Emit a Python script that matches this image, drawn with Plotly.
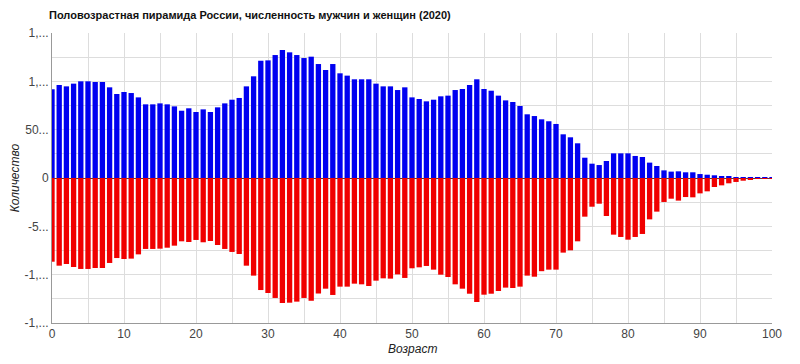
import plotly.graph_objects as go

ages = list(range(0, 101))

# Men (millions)
men_m = [0.918, 0.962, 0.948, 0.976, 1.000, 1.000, 0.993, 0.993, 0.938, 0.869,
         0.890, 0.879, 0.834, 0.762, 0.762, 0.772, 0.762, 0.741, 0.696, 0.721,
         0.683, 0.710, 0.683, 0.731, 0.772, 0.810, 0.828, 0.948, 1.052, 1.213,
         1.217, 1.272, 1.324, 1.300, 1.272, 1.241, 1.255, 1.179, 1.117, 1.179,
         1.083, 1.059, 1.021, 1.021, 1.021, 0.976, 0.948, 0.948, 0.910, 0.938,
         0.834, 0.817, 0.793, 0.810, 0.845, 0.852, 0.910, 0.921, 0.962, 1.021,
         0.921, 0.903, 0.852, 0.803, 0.786, 0.745, 0.659, 0.641, 0.607, 0.587,
         0.559, 0.452, 0.421, 0.359, 0.210, 0.148, 0.134, 0.176, 0.255, 0.255,
         0.255, 0.228, 0.217, 0.159, 0.124, 0.079, 0.066, 0.069, 0.059, 0.059,
         0.041, 0.034, 0.028, 0.021, 0.014, 0.010, 0.007, 0.004, 0.003, 0.002,
         0.001]

# Women (millions)
women_m = [0.866, 0.907, 0.890, 0.921, 0.941, 0.941, 0.931, 0.931, 0.879, 0.828,
           0.838, 0.834, 0.790, 0.734, 0.734, 0.731, 0.721, 0.700, 0.655, 0.662,
           0.641, 0.665, 0.652, 0.693, 0.734, 0.765, 0.786, 0.907, 1.010, 1.159,
           1.190, 1.241, 1.293, 1.290, 1.279, 1.241, 1.270, 1.195, 1.145, 1.210,
           1.124, 1.124, 1.093, 1.100, 1.117, 1.062, 1.038, 1.041, 0.997, 1.034,
           0.934, 0.924, 0.910, 0.948, 1.000, 1.024, 1.100, 1.145, 1.197, 1.283,
           1.207, 1.197, 1.169, 1.134, 1.138, 1.124, 1.010, 1.021, 0.964, 0.948,
           0.948, 0.772, 0.748, 0.655, 0.400, 0.297, 0.266, 0.393, 0.586, 0.610,
           0.638, 0.610, 0.579, 0.428, 0.348, 0.248, 0.214, 0.234, 0.197, 0.200,
           0.159, 0.138, 0.093, 0.076, 0.055, 0.041, 0.028, 0.017, 0.010, 0.007,
           0.004]

men = [round(v * 1_000_000) for v in men_m]
women = [-round(v * 1_000_000) for v in women_m]

y_tickvals = [-1500000, -1250000, -1000000, -750000, -500000, -250000, 0,
              250000, 500000, 750000, 1000000, 1250000, 1500000]
y_ticktext = ["-1,...", "", "-1,...", "", "-5...", "", "0", "", "50...", "", "1,...", "", "1,..."]
x_tickvals = list(range(0, 101, 5))
x_ticktext = [str(v) if v % 10 == 0 else "" for v in x_tickvals]

fig = go.Figure()
fig.add_trace(go.Bar(x=ages, y=men, name="Мужчины", marker=dict(color="#0000f0", line=dict(width=0))))
fig.add_trace(go.Bar(x=ages, y=women, name="Женщины", marker=dict(color="#f00000", line=dict(width=0))))

fig.update_layout(
    width=800, height=364,
    barmode="relative", bargap=0.26,
    showlegend=False,
    plot_bgcolor="white", paper_bgcolor="white",
    margin=dict(l=52, r=28, t=33, b=41),
    font=dict(family="Liberation Sans, Arial, sans-serif", size=12, color="#444"),
    title=dict(text="<b>Половозрастная пирамида России, численность мужчин и женщин (2020)</b>",
               x=49 / 800, xref="container", xanchor="left", y=1 - 15 / 364, yref="container", yanchor="middle",
               font=dict(size=11, color="#111")),
    xaxis=dict(range=[0, 100], tickvals=x_tickvals, ticktext=x_ticktext,
               showgrid=True, gridcolor="#dddddd", gridwidth=1,
               showline=True, linecolor="#999", linewidth=1, zeroline=False,
               ticks="", tickfont=dict(size=12, color="#444")),
    yaxis=dict(range=[-1500000, 1500000], tickvals=y_tickvals, ticktext=y_ticktext,
               showgrid=True, gridcolor="#dddddd", gridwidth=1,
               showline=True, linecolor="#999", linewidth=1,
               zeroline=True, zerolinecolor="#444", zerolinewidth=1,
               ticks="", tickfont=dict(size=12, color="#444")),
)

fig.add_annotation(text="<i>Возраст</i>", xref="paper", yref="paper", x=0.5, y=-0.09,
                   showarrow=False, font=dict(size=12, color="#222"), xanchor="center", yanchor="middle")
fig.add_annotation(text="<i>Количество</i>", xref="paper", yref="paper", x=-0.051, y=0.5,
                   showarrow=False, textangle=-90, font=dict(size=12, color="#222"),
                   xanchor="center", yanchor="middle")

fig.write_html("out.html", config={"displayModeBar": False},
               post_script="document.body.style.margin='0';document.body.style.padding='0';")
